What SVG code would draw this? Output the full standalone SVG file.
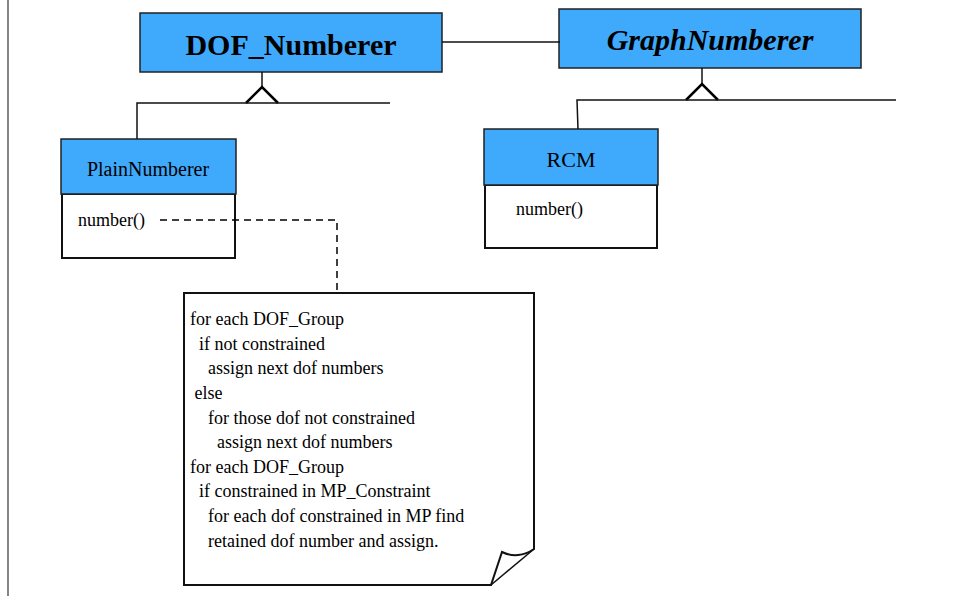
<svg xmlns="http://www.w3.org/2000/svg" width="954" height="596" viewBox="0 0 954 596">
<style>
.hdr{fill:#3fa9fc;stroke:#222;stroke-width:1.5}
.body{fill:#fff;stroke:#111;stroke-width:2}
.ln{fill:none;stroke:#111;stroke-width:1.5}
.tri{fill:none;stroke:#000;stroke-width:2.5}
.dash{fill:none;stroke:#000;stroke-width:1.5;stroke-dasharray:7,5}
text{font-family:'Liberation Serif','Times New Roman',serif;fill:#000}
.note{font-size:18px}
</style>
<rect width="954" height="596" fill="#fff"/>
<line x1="8" y1="0" x2="8" y2="596" stroke="#333" stroke-width="1.2"/>
<g id="DOF_Numberer">
<rect class="hdr" x="140" y="13" width="302" height="59"/>
<text x="291" y="55" font-size="30" font-weight="bold" text-anchor="middle">DOF_Numberer</text>
</g>
<g id="GraphNumberer">
<rect class="hdr" x="559" y="9" width="302" height="59"/>
<text x="710" y="50" font-size="30" font-weight="bold" font-style="italic" text-anchor="middle">GraphNumberer</text>
</g>
<g id="PlainNumberer">
<rect class="body" x="62" y="194" width="173" height="64"/>
<rect class="hdr" x="61" y="139" width="175" height="55"/>
<text x="148" y="176" font-size="20" text-anchor="middle">PlainNumberer</text>
<text x="78" y="226" font-size="18">number()</text>
</g>
<g id="RCM">
<rect class="body" x="485" y="185" width="172" height="63"/>
<rect class="hdr" x="484" y="129" width="174" height="56"/>
<text x="571" y="167" font-size="22" text-anchor="middle">RCM</text>
<text x="516" y="215" font-size="18">number()</text>
</g>
<g id="note">
<path d="M184,293 H534 V549 C524,556 512,557 502,552 L491,585 H184 Z" fill="#fff" stroke="#111" stroke-width="2"/>
<line x1="534" y1="549" x2="491" y2="585" stroke="#111" stroke-width="1.5"/>
<text class="note" x="190" y="325" xml:space="preserve">for each DOF_Group</text>
<text class="note" x="190" y="350" xml:space="preserve">  if not constrained</text>
<text class="note" x="190" y="374" xml:space="preserve">    assign next dof numbers</text>
<text class="note" x="190" y="399" xml:space="preserve"> else</text>
<text class="note" x="190" y="424" xml:space="preserve">    for those dof not constrained</text>
<text class="note" x="190" y="448" xml:space="preserve">      assign next dof numbers</text>
<text class="note" x="190" y="473" xml:space="preserve">for each DOF_Group</text>
<text class="note" x="190" y="497" xml:space="preserve">  if constrained in MP_Constraint</text>
<text class="note" x="190" y="522" xml:space="preserve">    for each dof constrained in MP find</text>
<text class="note" x="190" y="547" xml:space="preserve">    retained dof number and assign.</text>
</g>
<g id="connectors">
<line class="ln" x1="442" y1="42" x2="560" y2="42"/>
<line class="ln" x1="262" y1="72" x2="262" y2="86"/>
<polyline class="tri" points="246,103 262,87 278,103"/>
<polyline class="ln" points="137,139 137,103 390,103"/>
<line class="ln" x1="702" y1="68" x2="702" y2="84"/>
<polyline class="tri" points="686,100 702,84 718,100"/>
<polyline class="ln" points="578,129 577,100 896,100"/>
<polyline class="dash" points="160,220 337,220 337,293"/>
</g>
</svg>
